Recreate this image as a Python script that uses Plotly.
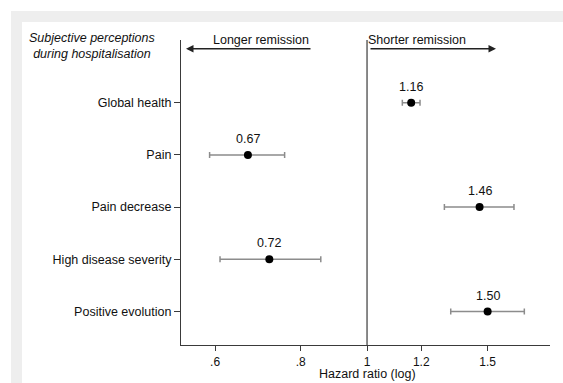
import numpy as np
import plotly.graph_objects as go

# ---- data ----
categories = ["Global health", "Pain", "Pain decrease", "High disease severity", "Positive evolution"]
hazard_ratio = [1.16, 0.67, 1.46, 0.72, 1.50]
ci_low = [1.126, 0.589, 1.297, 0.610, 1.325]
ci_high = [1.195, 0.758, 1.639, 0.856, 1.697]
hr_labels = ["1.16", "0.67", "1.46", "0.72", "1.50"]
x_tickvals = [0.6, 0.8, 1, 1.2, 1.5]
x_ticktext = [".6", ".8", "1", "1.2", "1.5"]

# ---- layout geometry ----
W, H = 563, 383
L, R, T, B = 181, 13, 40, 38
PW, PH = W - L - R, H - T - B


def px(xp):
    return (xp - L) / PW


def py(yp):
    return (H - B - yp) / PH


ypos = list(range(len(categories), 0, -1))
FONT = "Liberation Sans, Arial, sans-serif"
FS = 12.5
AX = "#3a3a3a"

fig = go.Figure()
fig.add_trace(go.Scatter(
    x=hazard_ratio, y=ypos, mode="markers",
    marker=dict(color="black", size=8),
    error_x=dict(type="data", symmetric=False,
                 array=[h - v for h, v in zip(ci_high, hazard_ratio)],
                 arrayminus=[v - l for l, v in zip(ci_low, hazard_ratio)],
                 color="#8c8c8c", thickness=1.5, width=3),
    showlegend=False, hoverinfo="skip",
))

annotations = []
for v, yv, t in zip(hazard_ratio, ypos, hr_labels):
    annotations.append(dict(x=np.log10(v), y=yv, xref="x", yref="y", text=t,
                            showarrow=False, yshift=16,
                            font=dict(size=FS, color="#111", family=FONT)))

# header texts
annotations += [
    dict(x=px(92), y=py(46.5), xref="paper", yref="paper",
         text="<i>Subjective perceptions</i><br><i>during hospitalisation</i>",
         showarrow=False, align="center", xanchor="center", yanchor="middle",
         font=dict(size=FS, color="#111", family=FONT)),
    dict(x=px(261), y=py(40), xref="paper", yref="paper", text="Longer remission",
         showarrow=False, xanchor="center", yanchor="middle",
         font=dict(size=FS, color="#111", family=FONT)),
    dict(x=px(417), y=py(40), xref="paper", yref="paper", text="Shorter remission",
         showarrow=False, xanchor="center", yanchor="middle",
         font=dict(size=FS, color="#111", family=FONT)),
    dict(x=px(367), y=py(373.5), xref="paper", yref="paper", text="Hazard ratio (log)",
         showarrow=False, xanchor="center", yanchor="middle", borderpad=0,
         font=dict(size=FS, color="#111", family=FONT)),
    # arrows
    dict(x=px(186), y=py(48.7), xref="paper", yref="paper", text="",
         showarrow=True, ax=126, ay=0, arrowhead=2, arrowsize=1.0,
         arrowwidth=1.5, arrowcolor="#222"),
    dict(x=px(496), y=py(48.7), xref="paper", yref="paper", text="",
         showarrow=True, ax=-127, ay=0, arrowhead=2, arrowsize=1.0,
         arrowwidth=1.5, arrowcolor="#222"),
]

shapes = [
    dict(type="rect", xref="paper", yref="paper", x0=px(11), x1=px(W + 5),
         y0=py(H + 5), y1=py(11), fillcolor="#eeeeee", line=dict(width=0), layer="below"),
    dict(type="rect", xref="paper", yref="paper", x0=px(22), x1=px(W + 5),
         y0=py(H + 5), y1=py(22), fillcolor="white", line=dict(width=0), layer="below"),
    dict(type="line", xref="x", yref="paper", x0=1, x1=1, y0=0, y1=1,
         line=dict(color=AX, width=1.2)),
]

fig.update_layout(
    width=W, height=H,
    margin=dict(l=L, r=R, t=T, b=B, pad=0, autoexpand=False),
    paper_bgcolor="white", plot_bgcolor="rgba(0,0,0,0)",
    font=dict(family=FONT, size=FS, color="#111"),
    annotations=annotations, shapes=shapes,
    xaxis=dict(type="log", range=[np.log10(0.535), np.log10(1.85)],
               tickvals=x_tickvals, ticktext=x_ticktext, automargin=False,
               showgrid=False, zeroline=False, showline=True, linecolor=AX, linewidth=1.2,
               ticks="outside", ticklen=5, tickcolor=AX, tickwidth=1.2,
               tickfont=dict(size=12, color="#111")),
    yaxis=dict(range=[0.36, 6.2], tickvals=ypos, ticktext=categories, automargin=False,
               showgrid=False, zeroline=False, showline=True, linecolor=AX, linewidth=1.2,
               ticks="outside", ticklen=6, tickcolor=AX, tickwidth=1.2,
               tickfont=dict(size=FS, color="#111")),
)

fig.write_html("out.html")
